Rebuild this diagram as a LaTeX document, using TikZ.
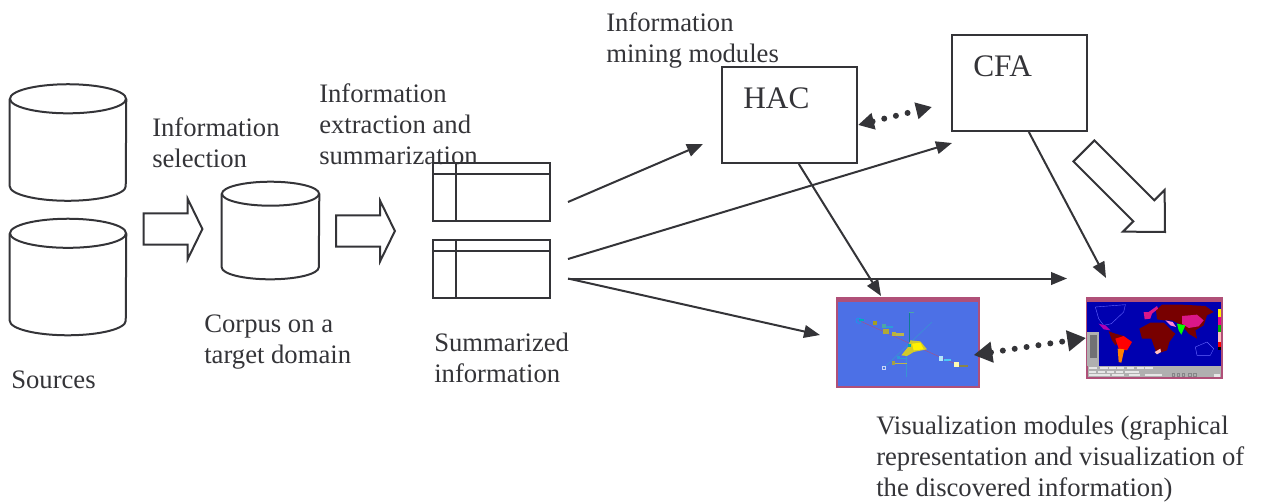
\documentclass[tikz,border=0pt]{standalone}
\usepackage{fontspec}
\usepackage{xcolor}
\setmainfont{Liberation Serif}
\usetikzlibrary{arrows.meta,shapes.arrows}
\definecolor{inkgray}{RGB}{52,52,56}
\definecolor{framemauve}{RGB}{176,80,120}
\definecolor{vizblue}{RGB}{76,112,230}
\definecolor{oceanblue}{RGB}{0,0,176}
\definecolor{landred}{RGB}{120,0,0}
\definecolor{panelgray}{RGB}{176,176,176}
\tikzset{
  every node/.style={text=inkgray},
  drumline/.style={draw=inkgray, line width=1.5pt},
  blockarrow/.style={draw=inkgray, line width=1.5pt, single arrow, anchor=tip, inner xsep=0pt, inner ysep=10.9pt, single arrow head indent=0pt},
  modbox/.style={draw=inkgray, line width=1.5pt, minimum width=101.25pt, minimum height=72pt, inner sep=0pt},
  tablebox/.style={draw=inkgray, line width=1.5pt, minimum width=87.5pt, minimum height=43.5pt, inner sep=0pt,
    path picture={
      \draw[inkgray, line width=1.5pt] ([yshift=-8.25pt]path picture bounding box.north west) -- ([yshift=-8.25pt]path picture bounding box.north east);
      \draw[inkgray, line width=1.5pt] ([xshift=17pt]path picture bounding box.north west) -- ([xshift=17pt]path picture bounding box.south west);
    }},
  shotbox/.style={draw=framemauve, line width=1pt, inner sep=0pt},
  caption/.style={align=left, anchor=base west, inner sep=0pt, font=\fontsize{20}{23}\selectfont},
  boxname/.style={anchor=base west, inner sep=0pt, font=\fontsize{23.5}{28}\selectfont},
  conn/.style={draw=inkgray, line width=1.5pt, -{Triangle[length=12pt,width=9.5pt]}},
  dotlink/.style={draw=inkgray, line width=4.5pt, line cap=round, dash pattern=on 0pt off 9pt,
    {Triangle[length=12pt,width=12pt]}-{Triangle[length=12pt,width=12pt]}}
}
% name, centre, half width, half height, end radius
\newcommand{\drum}[5]{
  \node (#1) [minimum width=2*#3, minimum height=2*#4, inner sep=0pt] at (#2) {};
  \draw[drumline] ([yshift=-#5]#1.north) ellipse [x radius=#3, y radius=#5];
  \draw[drumline] ([yshift=-#5]#1.north west) -- ([yshift=#5]#1.south west)
    arc [start angle=180, end angle=360, x radius=#3, y radius=#5]
    -- ([yshift=-#5]#1.north east);
}
\begin{document}
\begin{tikzpicture}[x=0.75pt, y=-0.75pt]
\useasboundingbox (0,0) rectangle (1263,501);

% sources and corpus
\drum{sourcea}{68,142.5}{43.5pt}{43.5pt}{10.9pt}
\drum{sourceb}{68,277}{43.5pt}{43.5pt}{10.9pt}
\drum{corpus}{270.5,230.5}{36.4pt}{36.4pt}{9pt}

% big arrows
\node (selectarrow) [blockarrow, minimum height=44pt, minimum width=43.5pt, single arrow head extend=10.9pt, single arrow tip angle=128] at (203.5,229) {};
\node (extractarrow) [blockarrow, minimum height=44pt, minimum width=43.5pt, single arrow head extend=10.9pt, single arrow tip angle=128] at (396,231) {};
\node (minearrow) [blockarrow, rotate=-45, inner ysep=10.35pt, minimum height=86pt, minimum width=43pt, single arrow head extend=11pt, single arrow tip angle=89] at (1166,233) {};

% tables
\node (tablea) [tablebox] at (491.5,192) {};
\node (tableb) [tablebox] at (491.5,269) {};

% mining modules
\node (hac) [modbox] at (789.5,115) {};
\node (cfa) [modbox] at (1019.5,83) {};
\node (hacname) [boxname] at (743,108) {HAC};
\node (cfaname) [boxname] at (973,76) {CFA};

% screenshots
\node (scatter) [shotbox, fill=vizblue, minimum width=106.5pt, minimum height=66.75pt] at (908,342.5) {};
\node (worldmap) [shotbox, fill=panelgray, minimum width=101.25pt, minimum height=60pt] at (1154.5,338) {};

\begin{scope}[shift={(832,292)}, x=0.25pt, y=-0.25pt]
\fill[framemauve] (15,18) rectangle (440,30);
\draw[framemauve!80!vizblue, line width=.4pt] (80,85) -- (375,218);
\draw[teal!80!vizblue, line width=.4pt] (232,60) -- (232,150);
\draw[cyan!50!vizblue, line width=.4pt] (300,90) -- (155,228);
\draw[cyan!50!vizblue, line width=.4pt] (222,170) -- (222,255);
\draw[cyan, line width=.3pt] (80,86) circle (8);
\fill[cyan!70!green] (82,82) rectangle (96,88);
\fill[teal!70] (232,59) rectangle (246,63);
\fill[yellow!80!black] (208,190) -- (228,165) -- (235,145) -- (265,148) -- (285,172) -- (245,180) -- (225,192) -- cycle;
\fill[yellow] (240,155) -- (265,152) -- (275,172) -- (245,175) -- cycle;
\fill[cyan!60!green] (228,155) rectangle (238,165);
\fill[olive!80!white] (124,86) rectangle (135,98);
\fill[teal!70] (151,97) rectangle (162,108);
\fill[cyan!60!vizblue] (162,103) rectangle (184,108);
\fill[olive!70!white] (154,111) rectangle (172,125);
\fill[yellow!70!black] (180,120) rectangle (192,132);
\fill[olive!60!white] (192,124) rectangle (216,131);
\fill[cyan!60!vizblue] (194,192) rectangle (203,201);
\fill[cyan!60!vizblue] (203,197) rectangle (226,202);
\fill[yellow!60!black] (180,208) rectangle (190,218);
\fill[olive!60!white] (190,212) rectangle (226,217);
\fill[white!70!cyan] (321,193) rectangle (333,206);
\fill[cyan!70!white] (335,202) rectangle (356,206);
\fill[white!70!yellow] (367,210) rectangle (382,225);
\fill[olive!60!vizblue] (382,219) rectangle (408,225);
\draw[white!70!vizblue, line width=.3pt] (151,223) rectangle (161,233);
\end{scope}

\begin{scope}[shift={(1082,292)}, x=0.25pt, y=-0.25pt]
\fill[framemauve] (15,18) rectangle (418,30);
\fill[oceanblue] (15,30) rectangle (418,222);
\fill[panelgray] (15,120) rectangle (52,222);
\fill[inkgray!70] (25,130) rectangle (46,198);
\draw[blue!60!white, line width=.3pt] (40,45) -- (130,38) -- (125,60) -- (88,95) -- (65,100) -- (50,80) -- cycle;
\draw[blue!60!white, line width=.3pt] (340,165) -- (375,150) -- (395,170) -- (385,190) -- (345,190) -- cycle;
\fill[landred] (222,55) -- (240,38) -- (300,38) -- (370,42) -- (395,60) -- (375,70) -- (365,100) -- (340,115) -- (345,140) -- (320,125) -- (300,100) -- (270,85) -- (245,85) -- (225,82) -- cycle;
\fill[landred] (172,110) -- (205,92) -- (245,92) -- (268,115) -- (280,125) -- (262,150) -- (255,175) -- (225,185) -- (215,160) -- (208,140) -- (180,140) -- cycle;
\fill[landred] (80,118) -- (100,125) -- (125,132) -- (100,160) -- (90,145) -- cycle;
\fill[magenta!80!violet] (300,72) -- (345,68) -- (365,85) -- (350,103) -- (320,108) -- (300,95) -- cycle;
\fill[magenta!80!violet] (185,60) -- (200,60) -- (225,42) -- (228,50) -- (210,65) -- (205,80) -- (188,82) -- cycle;
\fill[violet!60!magenta] (50,95) -- (70,100) -- (85,115) -- (65,112) -- cycle;
\fill[pink!70!magenta] (250,85) -- (272,90) -- (282,105) -- (265,100) -- cycle;
\fill[green] (285,95) -- (310,100) -- (298,128) -- (290,115) -- cycle;
\fill[red] (100,140) -- (125,132) -- (150,150) -- (135,175) -- (110,170) -- cycle;
\fill[orange] (107,170) -- (127,172) -- (118,212) -- (110,210) -- cycle;
\fill[pink] (218,180) -- (235,170) -- (237,180) -- (225,187) -- cycle;
\fill[yellow] (408,52) rectangle (418,75);
\fill[magenta] (408,75) rectangle (418,100);
\fill[green!70!black] (408,100) rectangle (418,120);
\fill[pink] (408,120) rectangle (418,150);
\fill[red] (408,150) rectangle (418,165);
\fill[black] (408,165) rectangle (418,175);
\foreach \xa in {22,55,80,105,135,165,190} \fill[white!70!panelgray] (\xa,226) rectangle ++(22,6);
\foreach \xa in {22,48,75,103,130,150} \fill[white!70!panelgray] (\xa,237) rectangle ++(20,6);
\foreach \xa in {22,48,90,140,190,205} \fill[white!70!panelgray] (\xa,247) rectangle ++(35,6);
\foreach \xa in {270,285,300,320,335} \draw[inkgray!60, line width=.3pt] (\xa,244) rectangle ++(8,10);
\fill[white!70!panelgray] (395,246) rectangle (414,254);
\end{scope}

% connectors
\coordinate (outa) at (568,202);
\coordinate (outb) at (568,259);
\coordinate (outc) at (568,278.5);
\coordinate (toviz) at (820,335);
\coordinate (tomap) at (1067,278.5);
\coordinate (tohac) at (703,144);
\coordinate (tocfa) at (952,143);
\coordinate (hacviz) at (881,296);
\coordinate (cfamap) at (1106,278);
\draw[conn] (outa) -- (tohac);
\draw[conn] (outb) -- (tocfa);
\draw[conn] (outc) -- (tomap);
\draw[conn] (outc) -- (toviz);
\draw[conn] ([xshift=7pt]hac.south) -- (hacviz);
\draw[conn] ([xshift=7pt]cfa.south) -- (cfamap);
\draw[dotlink] (hac.east |- 0,125) -- (932,107);
\draw[dotlink, {Triangle[length=14pt,width=15pt]}-{Triangle[length=14pt,width=15pt]}] (scatter.east |- 0,355) ++(-6,0) -- (1086,338);

% captions
\node (sourcetext) [caption] at (11,388) {Sources};
\node (selecttext) [caption] at (152,167) {Information\\selection};
\node (extracttext) [caption] at (319,164) {Information\\extraction and\\summarization};
\node (corpustext) [caption] at (204,363) {Corpus on a\\target domain};
\node (summarytext) [caption] at (434,382) {Summarized\\information};
\node (miningtext) [caption] at (606,62) {Information\\mining modules};
\node (viztext) [caption] at (876,496) {Visualization modules (graphical\\representation and visualization of\\the discovered information)};
\end{tikzpicture}
\end{document}
